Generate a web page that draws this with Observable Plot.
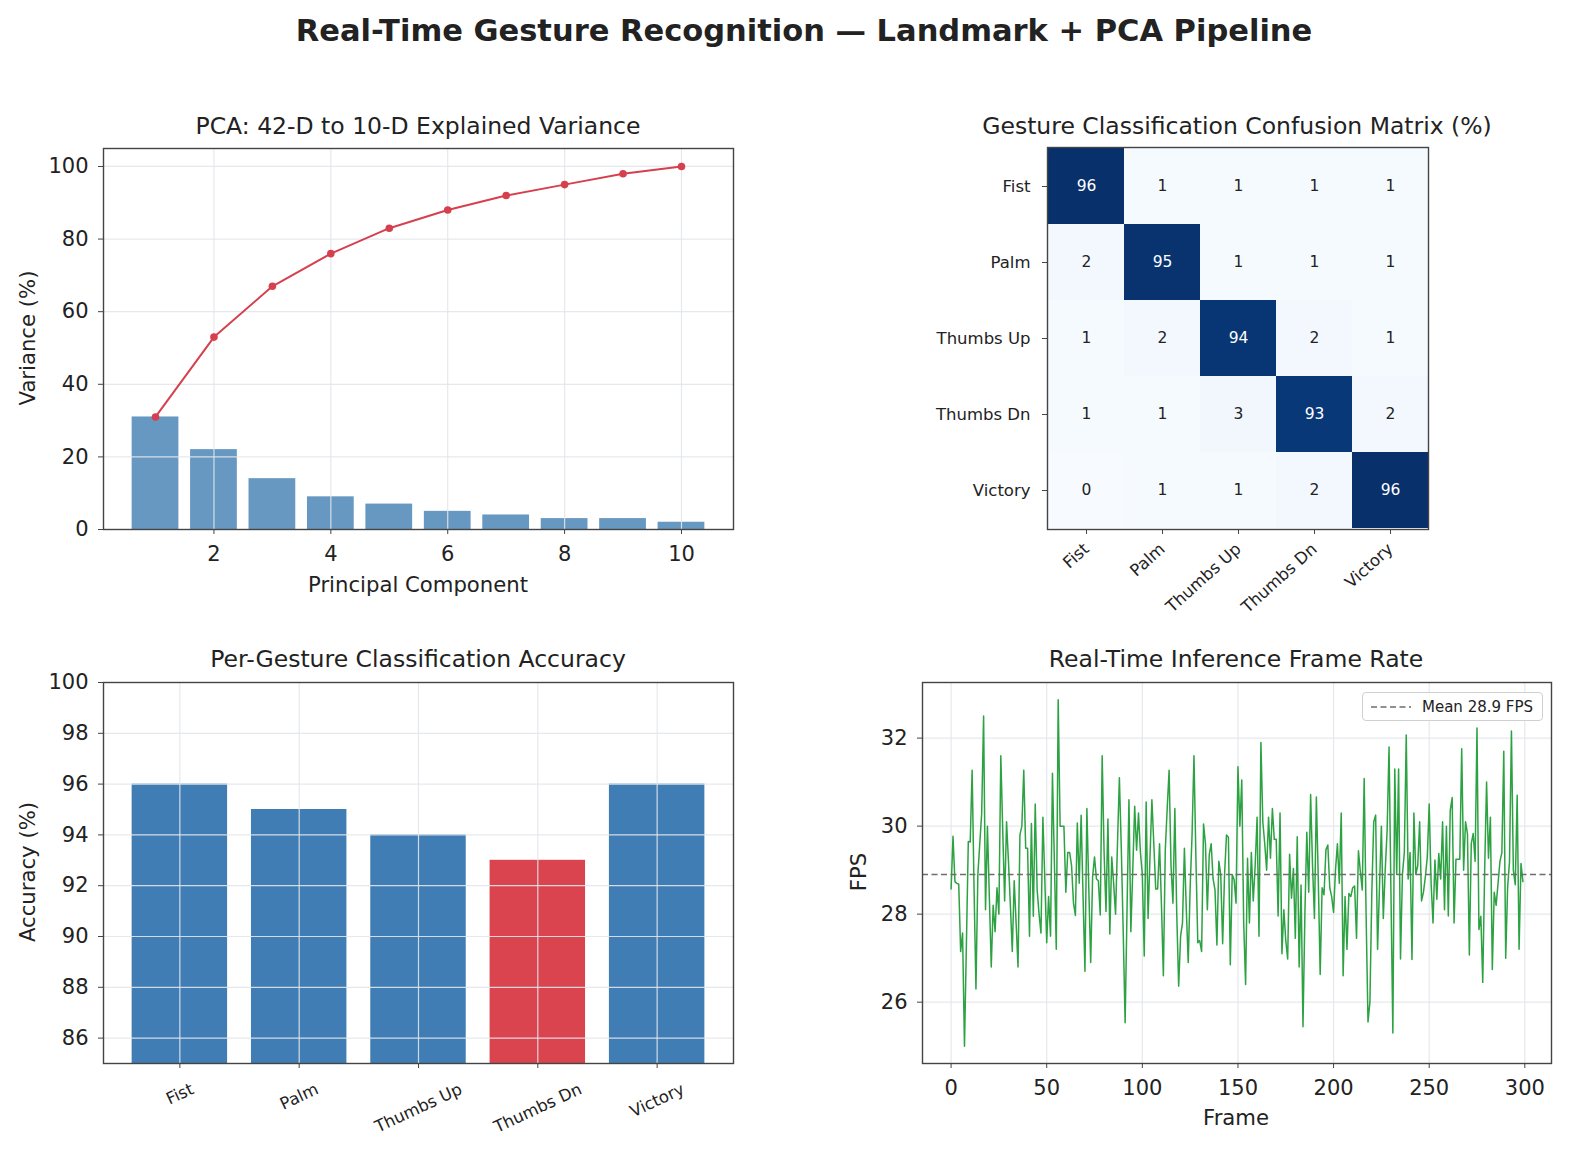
<!DOCTYPE html>
<html>
<head>
<meta charset="utf-8">
<script src="https://cdn.jsdelivr.net/npm/d3@7"></script>
<script src="https://cdn.jsdelivr.net/npm/@observablehq/plot@0.6"></script>
<style>
  html, body { margin: 0; padding: 0; background: #fff; }
  #root { position: relative; width: 1569px; height: 1154px; background: #fff; font-family: "DejaVu Sans", sans-serif; color: #222; overflow: hidden; }
  .lbl { position: absolute; white-space: nowrap; transform-origin: center center; }
</style>
</head>
<body>
<div id="root"></div>
<script>
// ---------- data ----------
const components = [1, 2, 3, 4, 5, 6, 7, 8, 9, 10];
const varianceExplained = [31, 22, 14, 9, 7, 5, 4, 3, 3, 2];
const cumulativeVariance = [31, 53, 67, 76, 83, 88, 92, 95, 98, 100];
const pcaTicksX = [2, 4, 6, 8, 10];
const pcaTicksY = [0, 20, 40, 60, 80, 100];

const gestures = ["Fist", "Palm", "Thumbs Up", "Thumbs Dn", "Victory"];
const confusion = [
  [96, 1, 1, 1, 1],
  [2, 95, 1, 1, 1],
  [1, 2, 94, 2, 1],
  [1, 1, 3, 93, 2],
  [0, 1, 1, 2, 96]
];

const accuracy = [96, 95, 94, 93, 96];
const accTicksY = [86, 88, 90, 92, 94, 96, 98, 100];

const fps = [
  28.57, 29.77, 28.74, 28.7, 28.68, 27.15, 27.57, 25.0, 27.3, 29.65,
  29.64, 31.27, 28.6, 26.3, 28.9, 29.6, 30.3, 32.5, 28.1, 30.0,
  28.4, 26.8, 28.2, 27.6, 28.6, 28.0, 31.6, 29.9, 28.3, 30.1,
  29.2, 28.2, 27.15, 28.76, 27.8, 26.8, 29.8, 30.0, 31.27, 29.5,
  29.5, 27.5, 30.06, 27.95, 30.5, 28.55, 28.0, 27.57, 30.2, 28.8,
  27.35, 28.4, 27.5, 31.2, 29.2, 27.2, 32.87, 30.0, 30.0, 30.0,
  28.5, 29.4, 29.4, 29.1, 28.25, 27.97, 30.07, 28.7, 30.25, 28.4,
  26.7, 30.4, 28.6, 26.9, 28.85, 29.3, 28.8, 28.76, 27.98, 31.6,
  29.4, 28.06, 30.16, 27.55, 29.3, 28.7, 28.0, 29.6, 31.1, 29.5,
  27.6, 25.53, 28.1, 30.6, 27.6, 29.0, 30.45, 29.45, 30.3, 29.4,
  28.9, 27.05, 30.55, 27.9, 29.3, 30.6, 29.6, 28.57, 28.57, 29.6,
  28.2, 26.6, 29.45, 30.4, 31.27, 29.1, 28.25, 30.4, 28.0, 26.36,
  27.5, 27.8, 29.5, 28.1, 26.9, 28.6, 29.8, 31.6, 29.3, 27.35,
  27.4, 27.15, 30.05, 29.6, 28.1, 29.35, 29.6, 28.8, 28.55, 27.3,
  29.2, 28.9, 27.33, 28.9, 29.8, 29.75, 26.85, 28.9, 28.78, 28.25,
  31.35, 30.0, 31.05, 27.8, 26.4, 29.27, 27.8, 29.4, 28.3, 29.1,
  30.2, 27.5, 31.9, 30.1, 29.6, 29.0, 30.2, 29.27, 30.4, 29.7,
  29.7, 27.96, 30.3, 27.1, 28.1, 27.4, 26.98, 29.36, 28.36, 29.04,
  27.45, 29.76, 26.8, 28.66, 25.44, 28.0, 29.86, 28.5, 30.72, 29.1,
  27.9, 30.66, 28.8, 26.63, 28.6, 28.44, 29.46, 29.57, 28.6, 28.4,
  28.04, 29.0, 29.6, 28.7, 30.3, 26.6, 28.4, 27.2, 28.47, 28.4,
  28.6, 28.64, 27.45, 29.44, 28.97, 28.55, 31.08, 28.0, 25.55, 26.0,
  28.5, 30.1, 30.25, 27.2, 28.6, 30.0, 27.9, 29.0, 29.9, 31.8,
  28.5, 25.3, 31.3, 28.9, 31.3, 26.98, 28.9, 29.4, 32.07, 28.8,
  29.4, 26.97, 30.3, 28.9, 29.1, 30.1, 28.3, 28.5, 28.85, 29.3,
  30.5, 28.7, 27.8, 29.23, 28.34, 29.38, 28.8, 30.1, 28.1, 30.0,
  27.96, 30.36, 30.65, 27.8, 29.25, 29.25, 29.25, 31.76, 29.0, 30.1,
  29.83, 27.07, 29.6, 29.83, 29.2, 32.23, 27.65, 27.95, 26.45, 29.0,
  31.0, 29.27, 30.2, 26.74, 28.5, 28.2, 28.7, 29.2, 29.4, 31.7,
  27.0, 28.6, 29.2, 32.16, 29.0, 28.67, 30.7, 27.2, 29.15, 28.74
];
const meanFps = 28.9;
const fpsTicksX = [0, 50, 100, 150, 200, 250, 300];
const fpsTicksY = [26, 28, 30, 32];

// ---------- helpers ----------
const root = document.getElementById("root");
const FONT = "DejaVu Sans";
const GRID = {stroke: "#e2e5ea", strokeOpacity: 0.9, strokeWidth: 1.2};
const baseStyle = {fontFamily: FONT, fontSize: "21px", color: "#222", background: "transparent", overflow: "visible"};
const TICK_X = {tickSize: 5, tickPadding: 12, label: null, stroke: "#444"};
const TICK_Y = {tickSize: 5, tickPadding: 10, label: null, stroke: "#444"};

function place(node, left, top) {
  node.style.position = "absolute";
  node.style.left = left + "px";
  node.style.top = top + "px";
  root.appendChild(node);
}
function label(text, cx, cy, size, opts = {}) {
  const d = document.createElement("div");
  d.className = "lbl";
  d.textContent = text;
  d.style.fontSize = size + "px";
  if (opts.bold) d.style.fontWeight = "bold";
  d.style.left = cx + "px";
  d.style.top = cy + "px";
  d.style.transform = `translate(-50%, -50%)` + (opts.rotate ? ` rotate(${opts.rotate}deg)` : "");
  root.appendChild(d);
}
const measureCtx = document.createElement("canvas").getContext("2d");
function textWidth(t, size) {
  measureCtx.font = `${size}px "${FONT}"`;
  return measureCtx.measureText(t).width;
}

// ---------- main title ----------
label("Real-Time Gesture Recognition — Landmark + PCA Pipeline", 804, 30, 30.5, {bold: true});

// ---------- Panel 1: PCA ----------
{
  const rows = components.map((c, i) => ({c, v: varianceExplained[i], cum: cumulativeVariance[i]}));
  const p = Plot.plot({
    width: 760, height: 520,
    marginLeft: 103, marginRight: 27, marginTop: 48, marginBottom: 91,
    style: baseStyle,
    x: {domain: [0.11, 10.89]},
    y: {domain: [0, 104.95]},
    marks: [
      Plot.rectY(rows, {x1: d => d.c - 0.4, x2: d => d.c + 0.4, y1: 0, y2: "v", fill: "#6698c2"}),
      Plot.gridX(pcaTicksX, GRID),
      Plot.gridY(pcaTicksY, GRID),
      Plot.line(rows, {x: "c", y: "cum", stroke: "#d6404e", strokeWidth: 2}),
      Plot.dot(rows, {x: "c", y: "cum", r: 3.8, fill: "#d6404e"}),
      Plot.frame({stroke: "#444", strokeWidth: 1.4}),
      Plot.axisX({ticks: pcaTicksX, ...TICK_X}),
      Plot.axisY({ticks: pcaTicksY, ...TICK_Y})
    ]
  });
  place(p, 0, 100);
  label("PCA: 42-D to 10-D Explained Variance", 418, 126, 23.5);
  label("Principal Component", 418, 584, 21.2);
  label("Variance (%)", 27, 338, 21.2, {rotate: -90});
}

// ---------- Panel 2: confusion matrix ----------
{
  const cells = [];
  confusion.forEach((row, i) => row.forEach((v, j) => cells.push({actual: gestures[i], pred: gestures[j], v})));
  const vmax = d3.max(cells, d => d.v);
  const p = Plot.plot({
    width: 560, height: 540,
    marginLeft: 147, marginRight: 32, marginTop: 47, marginBottom: 111,
    style: baseStyle,
    x: {domain: gestures, padding: 0},
    y: {domain: gestures, padding: 0},
    color: {type: "linear", scheme: "blues", domain: [0, vmax]},
    marks: [
      Plot.cell(cells, {x: "pred", y: "actual", fill: "v"}),
      Plot.text(cells.filter(d => d.v > vmax / 2), {x: "pred", y: "actual", text: d => String(d.v), fill: "white", fontSize: 15.5}),
      Plot.text(cells.filter(d => d.v <= vmax / 2), {x: "pred", y: "actual", text: d => String(d.v), fill: "#222", fontSize: 15.5}),
      Plot.frame({stroke: "#444", strokeWidth: 1.4}),
      Plot.axisX({tickSize: 5, tickPadding: 12, tickRotate: -42, fontSize: 16.5, label: null, stroke: "#444"}),
      Plot.axisY({tickSize: 5, tickPadding: 12, fontSize: 16.5, label: null, stroke: "#444"})
    ]
  });
  place(p, 900, 100);
  label("Gesture Classification Confusion Matrix (%)", 1237, 126, 23.5);
}

// ---------- Panel 3: per-gesture accuracy ----------
{
  const minAcc = d3.min(accuracy);
  const rows = gestures.map((g, i) => ({i, g, a: accuracy[i], worst: accuracy[i] === minAcc}));
  const idx = rows.map(d => d.i);
  const LSIZE = 16.5, ANG = 25 * Math.PI / 180;
  // matplotlib-style alignment: rotated bounding box top sits at a fixed offset below the axis
  const labelMarks = rows.map(d => {
    const w = textWidth(d.g, LSIZE);
    const bh = w * Math.sin(ANG) + LSIZE * 1.17 * Math.cos(ANG);
    return Plot.text([d], {x: "i", text: "g", frameAnchor: "bottom", dy: 16 + bh / 2, rotate: -25,
      textAnchor: "middle", lineAnchor: "middle", fontSize: LSIZE, fill: "#222"});
  });
  const p = Plot.plot({
    width: 760, height: 514,
    marginLeft: 103, marginRight: 27, marginTop: 42, marginBottom: 91,
    style: baseStyle,
    x: {domain: [-0.64, 4.64]},
    y: {domain: [85, 100]},
    marks: [
      Plot.rectY(rows, {x1: d => d.i - 0.4, x2: d => d.i + 0.4, y1: 0, y2: "a", fill: d => d.worst ? "#d9444f" : "#3f7db4", clip: true}),
      Plot.gridX(idx, GRID),
      Plot.gridY(accTicksY, GRID),
      Plot.frame({stroke: "#444", strokeWidth: 1.4}),
      Plot.axisX({ticks: idx, tickSize: 5, tickFormat: () => "", label: null, stroke: "#444"}),
      ...labelMarks,
      Plot.axisY({ticks: accTicksY, ...TICK_Y})
    ]
  });
  place(p, 0, 640);
  label("Per-Gesture Classification Accuracy", 418, 659, 23.5);
  label("Accuracy (%)", 27, 872, 21.2, {rotate: -90});
}

// ---------- Panel 4: frame rate ----------
{
  const [lo, hi] = d3.extent(fps);
  const padY = (hi - lo) * 0.05;
  const padX = (fps.length - 1) * 0.05;
  const p = Plot.plot({
    width: 779, height: 514,
    marginLeft: 132, marginRight: 18, marginTop: 42, marginBottom: 91,
    style: baseStyle,
    x: {domain: [-padX, fps.length - 1 + padX]},
    y: {domain: [lo - padY, hi + padY]},
    marks: [
      Plot.gridX(fpsTicksX, GRID),
      Plot.gridY(fpsTicksY, GRID),
      Plot.lineY(fps, {x: (d, i) => i, y: d => d, stroke: "#2ca242", strokeWidth: 1.5}),
      Plot.ruleY([meanFps], {stroke: "#6e6e6e", strokeWidth: 1.6, strokeDasharray: "6,3.5"}),
      Plot.frame({stroke: "#444", strokeWidth: 1.4}),
      Plot.axisX({ticks: fpsTicksX, ...TICK_X}),
      Plot.axisY({ticks: fpsTicksY, ...TICK_Y})
    ]
  });
  place(p, 790, 640);
  label("Real-Time Inference Frame Rate", 1236, 659, 23.5);
  label("Frame", 1236, 1117, 21.2);
  label("FPS", 858, 872, 21.2, {rotate: -90});

  // legend
  const lg = document.createElement("div");
  lg.style.cssText = "position:absolute;left:1362px;top:692px;width:181px;height:29px;border:1px solid #d0d0d0;border-radius:4px;background:rgba(255,255,255,0.85);box-sizing:border-box;display:flex;align-items:center;font-size:15px;";
  lg.innerHTML = `<svg width="42" height="10" style="margin-left:8px;margin-right:9px"><line x1="0" y1="5" x2="40" y2="5" stroke="#6e6e6e" stroke-width="1.6" stroke-dasharray="6,3.5"/></svg><span>Mean ${meanFps} FPS</span>`;
  root.appendChild(lg);
}
</script>
</body>
</html>
